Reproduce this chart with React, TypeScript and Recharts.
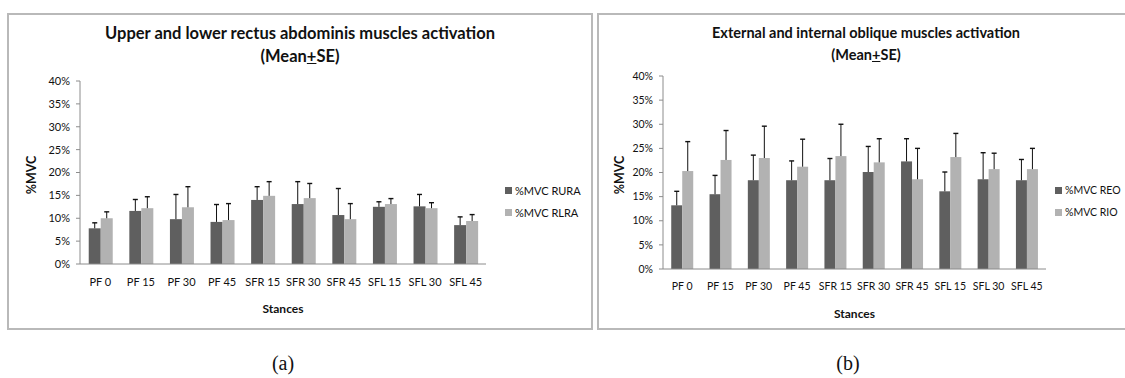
import { BarChart, Bar, XAxis, YAxis, Legend } from "recharts";

const stances = ["PF 0", "PF 15", "PF 30", "PF 45", "SFR 15", "SFR 30", "SFR 45", "SFL 15", "SFL 30", "SFL 45"];

// (a) rectus abdominis, %MVC mean and SE
const ruraMean = [7.8, 11.6, 9.8, 9.2, 14.0, 13.1, 10.7, 12.5, 12.6, 8.5];
const ruraSe = [1.2, 2.5, 5.4, 3.8, 2.9, 4.9, 5.8, 1.1, 2.6, 1.8];
const rlraMean = [10.0, 12.2, 12.4, 9.6, 14.9, 14.4, 9.8, 13.1, 12.2, 9.4];
const rlraSe = [1.4, 2.5, 4.5, 3.6, 3.1, 3.2, 3.4, 1.2, 1.2, 1.4];

// (b) obliques
const reoMean = [13.2, 15.5, 18.4, 18.4, 18.4, 20.1, 22.3, 16.1, 18.6, 18.4];
const reoSe = [2.9, 3.9, 5.2, 4.0, 4.5, 5.3, 4.7, 4.0, 5.5, 4.3];
const rioMean = [20.3, 22.6, 23.0, 21.2, 23.4, 22.1, 18.6, 23.2, 20.7, 20.7];
const rioSe = [6.1, 6.1, 6.6, 5.7, 6.6, 4.9, 6.4, 4.9, 3.3, 4.3];

const yTicks = [0, 5, 10, 15, 20, 25, 30, 35, 40];
const edgeTicks = [0, 1, 2, 3, 4, 5, 6, 7, 8, 9, 10];

const DARK = "#5f5f5f";
const LIGHT = "#b2b2b2";
const AXIS = "#8c8c8c";
const FONT = "Lato, 'Open Sans', sans-serif";

const dataA = stances.map((s, i) => ({
  stance: s,
  a: ruraMean[i],
  aSe: ruraSe[i],
  b: rlraMean[i],
  bSe: rlraSe[i],
}));

const dataB = stances.map((s, i) => ({
  stance: s,
  a: reoMean[i],
  aSe: reoSe[i],
  b: rioMean[i],
  bSe: rioSe[i],
}));

// bar with a plus-only error bar (Excel style)
function SeBar(props: any) {
  const { x, y, width, height, fill, mean, se } = props;
  if (!height || !mean) return null;
  const k = height / mean;
  const top = y - se * k;
  const cx = x + width / 2;
  return (
    <g>
      <rect x={x} y={y} width={width} height={height} fill={fill} />
      <line x1={cx} y1={y} x2={cx} y2={top} stroke="#111" strokeWidth={1} />
      <line x1={cx - 2.5} y1={top} x2={cx + 2.5} y2={top} stroke="#111" strokeWidth={1.4} />
    </g>
  );
}

function LegendBox({ names, left, top, size }: { names: string[]; left: number; top: number; size: number }) {
  return (
    <div style={{ position: "absolute", left, top, fontFamily: FONT, fontSize: size, color: "#111" }}>
      {names.map((n, i) => (
        <div key={n} style={{ display: "flex", alignItems: "center", height: 22, whiteSpace: "nowrap" }}>
          <span
            style={{
              display: "inline-block",
              width: 7,
              height: 7,
              background: i === 0 ? DARK : LIGHT,
              marginRight: 3,
            }}
          />
          {n}
        </div>
      ))}
    </div>
  );
}

function Panel({
  left,
  width,
  data,
  title,
  titleSize,
  titleLine,
  names,
  margin,
  legendLeft,
  legendSize,
  yLabelGap,
  tickSize,
}: {
  left: number;
  width: number;
  data: typeof dataA;
  title: string;
  titleSize: number;
  titleLine: number;
  names: string[];
  margin: { top: number; right: number; left: number; bottom: number };
  legendLeft: number;
  legendSize: number;
  yLabelGap: number;
  tickSize: number;
}) {
  const height = 317;
  const plotL = margin.left + 40;
  const plotR = width - margin.right;
  const plotT = margin.top;
  const plotB = height - margin.bottom - 30;
  return (
    <div
      style={{
        position: "absolute",
        left,
        top: 13,
        width,
        height,
        boxSizing: "border-box",
        border: "2px solid #b9b9b9",
      }}
    >
      <div
        style={{
          position: "absolute",
          left: -2,
          top: 7,
          width,
          textAlign: "center",
          fontFamily: FONT,
          fontWeight: 700,
          fontSize: titleSize,
          lineHeight: `${titleLine}px`,
          color: "#111",
        }}
      >
        {title}
        <br />
        (Mean<span style={{ textDecoration: "underline" }}>+</span>SE)
      </div>
      <div style={{ position: "absolute", left: -2, top: -2 }}>
        <BarChart
          width={width}
          height={height}
          data={data}
          margin={margin}
          barCategoryGap="21.5%"
          barGap={0}
        >
          <XAxis
            xAxisId="edge"
            type="number"
            domain={[0, 10]}
            ticks={edgeTicks}
            allowDataOverflow
            tick={false}
            axisLine={false}
            tickLine={{ stroke: AXIS }}
            tickSize={5}
            height={0}
          />
          <XAxis
            dataKey="stance"
            interval={0}
            tickLine={false}
            axisLine={{ stroke: AXIS }}
            tickSize={5}
            tickMargin={9}
            height={30}
            tick={{ fontSize: tickSize, fill: "#111", fontFamily: FONT }}
          />
          <YAxis
            domain={[0, 40]}
            ticks={yTicks}
            width={40}
            tickFormatter={(v) => `${v}%`}
            axisLine={{ stroke: AXIS }}
            tickLine={{ stroke: AXIS }}
            tickSize={4}
            tickMargin={6}
            tick={{ fontSize: tickSize, fill: "#111", fontFamily: FONT }}
          />
          <Legend content={() => null} />
          <Bar
            dataKey="a"
            name={names[0]}
            fill={DARK}
            isAnimationActive={false}
            shape={(p: any) => <SeBar {...p} mean={p.payload.a} se={p.payload.aSe} />}
          />
          <Bar
            dataKey="b"
            name={names[1]}
            fill={LIGHT}
            isAnimationActive={false}
            shape={(p: any) => <SeBar {...p} mean={p.payload.b} se={p.payload.bSe} />}
          />
        </BarChart>
      </div>
      <div
        style={{
          position: "absolute",
          left: plotL - 2,
          width: plotR - plotL,
          top: plotB + 35,
          textAlign: "center",
          fontFamily: FONT,
          fontWeight: 700,
          fontSize: 12,
          color: "#111",
        }}
      >
        Stances
      </div>
      <div
        style={{
          position: "absolute",
          left: plotL - yLabelGap - 30,
          top: (plotT + plotB) / 2 - 10,
          width: 60,
          height: 20,
          lineHeight: "20px",
          textAlign: "center",
          transform: "rotate(-90deg)",
          fontFamily: FONT,
          fontWeight: 700,
          fontSize: 12.5,
          color: "#111",
        }}
      >
        %MVC
      </div>
      <LegendBox names={names} left={legendLeft} top={164} size={legendSize} />
    </div>
  );
}

export default function App() {
  return (
    <div
      style={{
        position: "absolute",
        left: 0,
        top: 0,
        width: 1125,
        height: 378,
        overflow: "hidden",
        background: "#fff",
      }}
    >
      <Panel
        left={7}
        width={586}
        data={dataA}
        title="Upper and lower rectus abdominis muscles activation"
        titleSize={16.5}
        titleLine={23}
        names={["%MVC RURA", "%MVC RLRA"]}
        margin={{ top: 68, right: 107, left: 33, bottom: 36 }}
        legendLeft={496}
        legendSize={11}
        yLabelGap={50}
        tickSize={11}
      />
      <Panel
        left={597}
        width={538}
        data={dataB}
        title="External and internal oblique muscles activation"
        titleSize={14.5}
        titleLine={22}
        names={["%MVC REO", "%MVC RIO"]}
        margin={{ top: 63, right: 89, left: 26, bottom: 31 }}
        legendLeft={456}
        legendSize={10.5}
        yLabelGap={45}
        tickSize={10.5}
      />
      <div
        style={{
          position: "absolute",
          left: 253,
          width: 60,
          top: 352,
          textAlign: "center",
          fontFamily: "'Liberation Serif', serif",
          fontSize: 20,
          color: "#111",
        }}
      >
        (a)
      </div>
      <div
        style={{
          position: "absolute",
          left: 818,
          width: 60,
          top: 352,
          textAlign: "center",
          fontFamily: "'Liberation Serif', serif",
          fontSize: 20,
          color: "#111",
        }}
      >
        (b)
      </div>
    </div>
  );
}
